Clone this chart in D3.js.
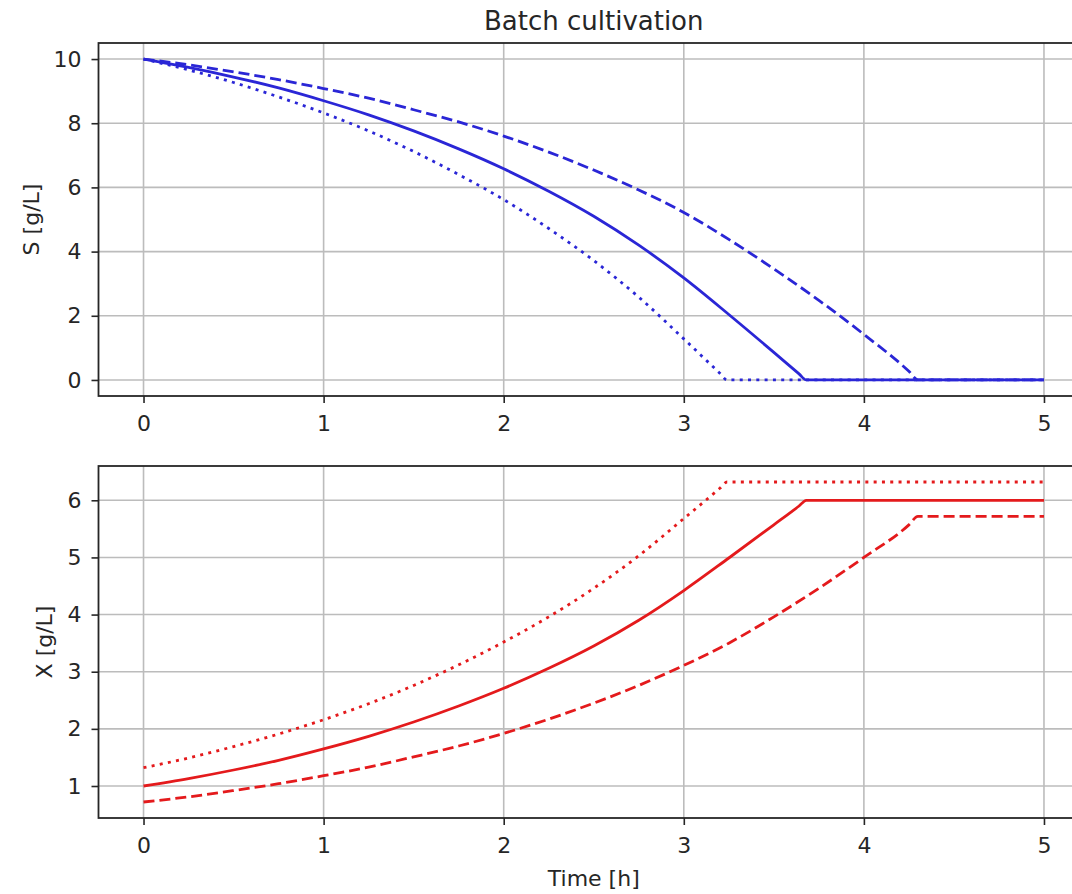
<!DOCTYPE html>
<html>
<head>
<meta charset="utf-8">
<script src="https://cdn.jsdelivr.net/npm/d3@7"></script>
<style>
  body { margin: 0; background: #fff; }
  text { font-family: "DejaVu Sans", sans-serif; fill: #262626; }
</style>
</head>
<body>
<div class="batch"></div>
<script>
var totalWidth = 1072;
var totalHeight = 894;

// the axes run past the right edge of the picture (right spine is cut off)
var plotLeft = 98.5;
var plotRight = 1089;
var topPanel = { top: 43, bottom: 396 };
var bottomPanel = { top: 466, bottom: 818 };

// DATA

var timeTicks = [0, 1, 2, 3, 4, 5];
var substrateTicks = [0, 2, 4, 6, 8, 10];
var biomassTicks = [1, 2, 3, 4, 5, 6];

// solid line
var timeSolid = [0, 0.25, 0.5, 0.75, 1, 1.25, 1.5, 1.75, 2, 2.25, 2.5, 2.75, 3, 3.25, 3.5, 3.64, 3.68, 5];
var substrateSolid = [10, 9.74, 9.44, 9.1, 8.7, 8.26, 7.76, 7.2, 6.58, 5.88, 5.1, 4.2, 3.18, 2.04, 0.86, 0.19, 0, 0];
var biomassSolid = [1, 1.13, 1.28, 1.45, 1.65, 1.87, 2.12, 2.4, 2.71, 3.06, 3.45, 3.9, 4.42, 4.99, 5.57, 5.9, 6.0, 6.0];

// dotted line
var timeDotted = [0, 0.25, 0.5, 0.75, 1, 1.25, 1.5, 1.75, 2, 2.25, 2.5, 2.75, 3, 3.2, 3.24, 5];
var substrateDotted = [10, 9.66, 9.27, 8.82, 8.32, 7.76, 7.12, 6.4, 5.62, 4.72, 3.72, 2.58, 1.28, 0.21, 0, 0];
var biomassDotted = [1.32, 1.49, 1.69, 1.91, 2.16, 2.44, 2.76, 3.12, 3.52, 3.96, 4.46, 5.03, 5.68, 6.21, 6.32, 6.32];

// dashed line
var timeDashed = [0, 0.25, 0.5, 0.75, 1, 1.25, 1.5, 1.75, 2, 2.25, 2.5, 2.75, 3, 3.25, 3.5, 3.75, 4, 4.25, 4.3, 5];
var substrateDashed = [10, 9.82, 9.6, 9.36, 9.08, 8.78, 8.42, 8.04, 7.6, 7.1, 6.54, 5.92, 5.22, 4.38, 3.46, 2.48, 1.42, 0.27, 0, 0];
var biomassDashed = [0.72, 0.81, 0.92, 1.04, 1.18, 1.33, 1.51, 1.7, 1.92, 2.17, 2.45, 2.76, 3.11, 3.5, 3.96, 4.46, 5.0, 5.57, 5.72, 5.72];

var styles = {
  solid: null,
  dotted: "3,5.3",
  dashed: "11,5"
};

function zip(ts, vs) {
  return ts.map(function(t, i) { return { t: t, v: vs[i] }; });
}

var substrateSeries = [
  { dash: styles.solid, points: zip(timeSolid, substrateSolid) },
  { dash: styles.dashed, points: zip(timeDashed, substrateDashed) },
  { dash: styles.dotted, points: zip(timeDotted, substrateDotted) }
];

var biomassSeries = [
  { dash: styles.solid, points: zip(timeSolid, biomassSolid) },
  { dash: styles.dashed, points: zip(timeDashed, biomassDashed) },
  { dash: styles.dotted, points: zip(timeDotted, biomassDotted) }
];

// SCALES

var xScale = d3.scaleLinear().domain([-0.25, 5.25]).range([plotLeft, plotRight]);

// matplotlib style 5% margin around the data
function paddedDomain(seriesList) {
  var all = [];
  seriesList.forEach(function(s) {
    s.points.forEach(function(p) { all.push(p.v); });
  });
  var ext = d3.extent(all);
  var pad = (ext[1] - ext[0]) * 0.05;
  return [ext[0] - pad, ext[1] + pad];
}

var ySubstrate = d3.scaleLinear()
  .domain(paddedDomain(substrateSeries))
  .range([topPanel.bottom, topPanel.top]);

var yBiomass = d3.scaleLinear()
  .domain(paddedDomain(biomassSeries))
  .range([bottomPanel.bottom, bottomPanel.top]);

var svg = d3.select(".batch")
  .append("svg")
  .attr("width", totalWidth)
  .attr("height", totalHeight)
  .style("display", "block");

svg.append("rect")
  .attr("width", totalWidth)
  .attr("height", totalHeight)
  .attr("fill", "#fff");

function drawPanel(panel, yScale, yTicks, series, color, yLabel, yLabelX) {
  var g = svg.append("g");

  // grid
  g.append("g").selectAll("line")
    .data(timeTicks)
    .enter()
    .append("line")
    .attr("x1", function(d) { return xScale(d); })
    .attr("x2", function(d) { return xScale(d); })
    .attr("y1", panel.top)
    .attr("y2", panel.bottom)
    .attr("stroke", "#bcbcbc")
    .attr("stroke-width", 1.6);

  g.append("g").selectAll("line")
    .data(yTicks)
    .enter()
    .append("line")
    .attr("x1", plotLeft)
    .attr("x2", plotRight)
    .attr("y1", function(d) { return yScale(d); })
    .attr("y2", function(d) { return yScale(d); })
    .attr("stroke", "#bcbcbc")
    .attr("stroke-width", 1.6);

  // curves
  var line = d3.line()
    .x(function(d) { return xScale(d.t); })
    .y(function(d) { return yScale(d.v); })
    .curve(d3.curveMonotoneX);

  g.append("g").selectAll("path")
    .data(series)
    .enter()
    .append("path")
    .attr("d", function(d) { return line(d.points); })
    .attr("fill", "none")
    .attr("stroke", color)
    .attr("stroke-width", 2.8)
    .attr("stroke-dasharray", function(d) { return d.dash; });

  // axes
  var xAxis = d3.axisBottom(xScale)
    .tickValues(timeTicks)
    .tickFormat(d3.format("d"))
    .tickSize(7)
    .tickPadding(12);

  var yAxis = d3.axisLeft(yScale)
    .tickValues(yTicks)
    .tickFormat(d3.format("d"))
    .tickSize(7)
    .tickPadding(10);

  g.append("g")
    .attr("transform", "translate(0," + panel.bottom + ")")
    .call(xAxis)
    .call(function(a) {
      a.select(".domain").remove();
      a.selectAll(".tick line").attr("stroke", "#262626").attr("stroke-width", 1.6);
      a.selectAll(".tick text")
        .attr("font-family", "DejaVu Sans")
        .attr("font-size", 22)
        .attr("fill", "#262626");
    });

  g.append("g")
    .attr("transform", "translate(" + plotLeft + ",0)")
    .call(yAxis)
    .call(function(a) {
      a.select(".domain").remove();
      a.selectAll(".tick line").attr("stroke", "#262626").attr("stroke-width", 1.6);
      a.selectAll(".tick text")
        .attr("font-family", "DejaVu Sans")
        .attr("font-size", 22)
        .attr("fill", "#262626");
    });

  // frame
  g.append("rect")
    .attr("x", plotLeft)
    .attr("y", panel.top)
    .attr("width", plotRight - plotLeft)
    .attr("height", panel.bottom - panel.top)
    .attr("fill", "none")
    .attr("stroke", "#262626")
    .attr("stroke-width", 1.8);

  g.append("text")
    .attr("transform", "translate(" + yLabelX + "," + (panel.top + panel.bottom) / 2 + ") rotate(-90)")
    .attr("text-anchor", "middle")
    .attr("font-size", 22)
    .text(yLabel);
}

drawPanel(topPanel, ySubstrate, substrateTicks, substrateSeries, "#2a26d6", "S [g/L]", 39);
drawPanel(bottomPanel, yBiomass, biomassTicks, biomassSeries, "#e41a1c", "X [g/L]", 52);

svg.append("text")
  .attr("x", (plotLeft + plotRight) / 2)
  .attr("y", 30)
  .attr("text-anchor", "middle")
  .attr("font-size", 26)
  .text("Batch cultivation");

svg.append("text")
  .attr("x", (plotLeft + plotRight) / 2)
  .attr("y", 886)
  .attr("text-anchor", "middle")
  .attr("font-size", 22)
  .text("Time [h]");
</script>
</body>
</html>
